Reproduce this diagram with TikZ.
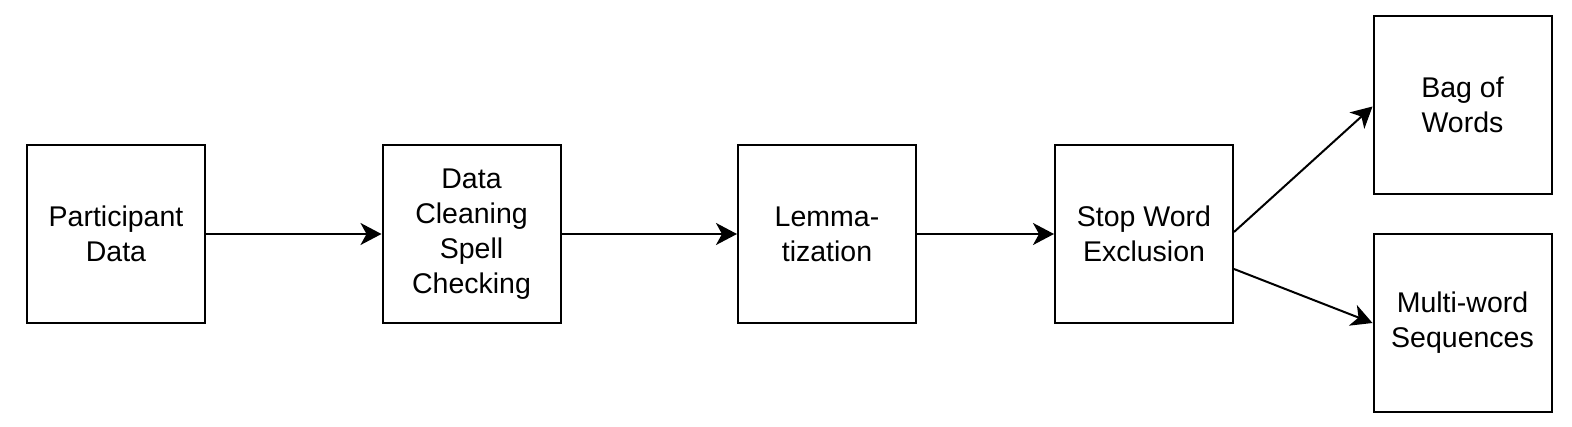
\documentclass[tikz,border=0pt]{standalone}
\usepackage{fontspec}
\setmainfont{Liberation Sans}
\usetikzlibrary{arrows.meta}
\begin{document}
\begin{tikzpicture}[x=1pt,y=-1pt,
  box/.style={draw=black, line width=2pt, minimum width=178pt, minimum height=178pt,
    inner sep=0pt, align=center, font=\fontsize{28.5}{35}\selectfont},
  conn/.style={draw=black, line width=2pt, -{Stealth[length=21pt,width=22pt,inset=6pt]}}]
\useasboundingbox (0,0) rectangle (1572,426);
\node[box] (pd) at (116,234) {Participant\\Data};
\node[box] (dc) at (471.5,234) {Data\\Cleaning\\Spell\\Checking};
\node[box] (lm) at (827,234) {Lemma-\\tization};
\node[box] (sw) at (1144,234) {Stop Word\\Exclusion};
\node[box] (bw) at (1462.5,104.5) {Bag of\\Words};
\node[box] (mw) at (1462.5,323) {Multi-word\\Sequences};
\draw[conn] (pd) -- (dc);
\draw[conn] (dc) -- (lm);
\draw[conn] (lm) -- (sw);
\draw[conn] ([yshift=2pt]sw.east) -- ([yshift=-2pt]bw.west);
\draw[conn] ([yshift=-35pt]sw.east) -- (mw.west);
\end{tikzpicture}
\end{document}
